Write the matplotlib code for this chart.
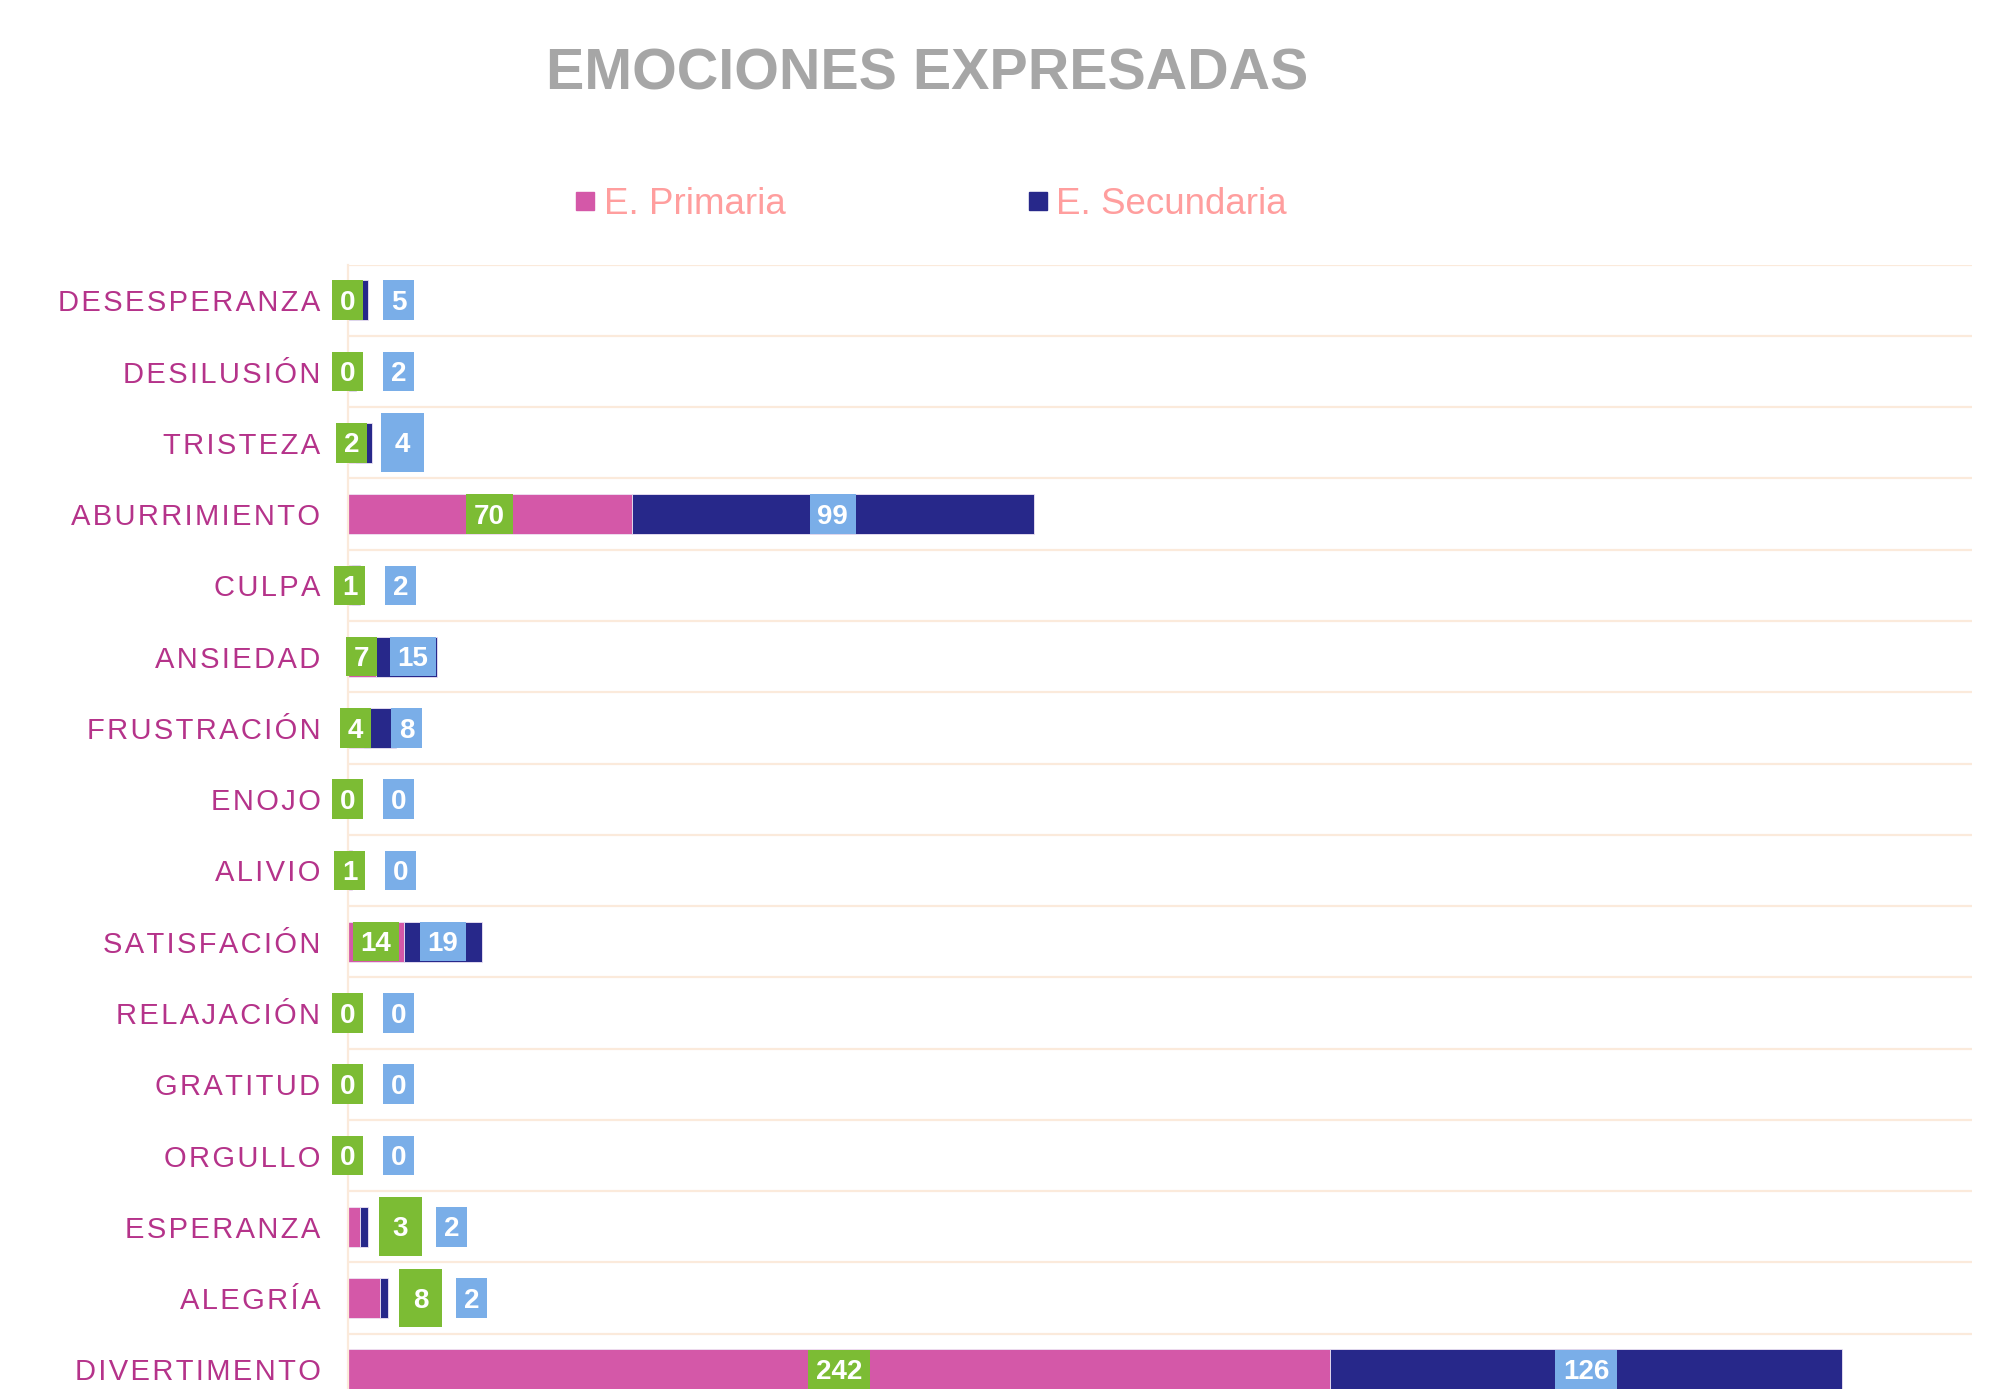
import numpy as np
import matplotlib
matplotlib.use("Agg")
import matplotlib.pyplot as plt
from matplotlib.lines import Line2D
from matplotlib.path import Path

# data
categories = ["DESESPERANZA", "DESILUSIÓN", "TRISTEZA", "ABURRIMIENTO", "CULPA",
              "ANSIEDAD", "FRUSTRACIÓN", "ENOJO", "ALIVIO", "SATISFACIÓN",
              "RELAJACIÓN", "GRATITUD", "ORGULLO", "ESPERANZA", "ALEGRÍA",
              "DIVERTIMENTO"]
primaria = [0, 0, 2, 70, 1, 7, 4, 0, 1, 14, 0, 0, 0, 3, 8, 242]
secundaria = [5, 2, 4, 99, 2, 15, 8, 0, 0, 19, 0, 0, 0, 2, 2, 126]
series_names = ["E. Primaria", "E. Secundaria"]

# labels that were dragged outside the bar / drawn with a larger box
outside_labels = ["ESPERANZA", "ALEGRÍA"]
big_labels = [("TRISTEZA", 1), ("ESPERANZA", 0), ("ALEGRÍA", 0)]

c_prim = "#D458A8"
c_sec = "#27288A"
c_lab_prim = "#7CBC34"
c_lab_sec = "#7AAEE8"
c_grid = "#FBEADB"
c_cat = "#B5338A"

plt.rcParams["font.family"] = ["Liberation Sans", "DejaVu Sans"]


def rect_box(padx, pady, shift=0.098):
    # square label box, own x / y padding, a bit taller on top so the
    # digits (which sit above the descent) end up centred in the box
    def box(x0, y0, width, height, mutation_size):
        px = padx * mutation_size
        top = (pady + shift) * mutation_size
        bot = (pady - shift) * mutation_size
        return Path([(x0 - px, y0 - bot), (x0 + width + px, y0 - bot),
                     (x0 + width + px, y0 + height + top), (x0 - px, y0 + height + top),
                     (x0 - px, y0 - bot)], closed=True)
    return box


fig = plt.figure(figsize=(20.03, 13.89), dpi=100, facecolor="w")
ax = fig.add_axes([0.1735, -0.0115, 0.811, 0.821])

n = len(categories)
y = np.arange(n)
prim = np.array(primaria)
sec = np.array(secundaria)

ax.barh(y, prim, height=0.56, color=c_prim, edgecolor="#EEE4F4", linewidth=0.6, zorder=2)
ax.barh(y, sec, left=prim, height=0.56, color=c_sec, edgecolor="#EEE4F4", linewidth=0.6, zorder=2)

ax.set_xlim(0, 400)
ax.set_ylim(n - 0.5, -0.5)
ax.set_yticks(y)
# letter spaced category names
ax.set_yticklabels(["\u200a".join(c) for c in categories], fontsize=21, color=c_cat)
ax.set_xticks([])
ax.set_yticks(np.arange(n + 1) - 0.5, minor=True)
ax.tick_params(axis="y", which="both", length=0, pad=19.5)
ax.grid(which="minor", axis="y", color=c_grid, linewidth=1.6, zorder=0)
for side in ["top", "right", "bottom"]:
    ax.spines[side].set_visible(False)
ax.spines["left"].set_color(c_grid)
ax.spines["left"].set_linewidth(1.6)

# data labels in coloured boxes
label_gap = 12.6
for i, cat in enumerate(categories):
    if cat in outside_labels:
        xp = prim[i] + sec[i] + 8
    else:
        xp = prim[i] / 2.0
    xs = max(prim[i] + sec[i] / 2.0, xp + label_gap)
    for k, (xx, val, col) in enumerate([(xp, prim[i], c_lab_prim), (xs, sec[i], c_lab_sec)]):
        if (cat, k) in big_labels:
            style = rect_box(0.5, 0.59)
        else:
            style = rect_box(0.28, 0.245)
        ax.annotate(str(val), (xx, i), xytext=(0, -1.95), textcoords="offset points",
                    ha="center", va="center", fontsize=20, fontweight="bold",
                    color="white", zorder=4, annotation_clip=False,
                    bbox=dict(boxstyle=style, facecolor=col, edgecolor="none"))

fig.text(0.463, 1 - 89.4 / 1389, "EMOCIONES EXPRESADAS", ha="center", va="baseline",
         fontsize=41.3, fontweight="bold", color="#A6A6A6")

handles = [Line2D([], [], marker="s", linestyle="none", color=c, markersize=13)
           for c in [c_prim, c_sec]]
fig.legend(handles, series_names, loc="center", bbox_to_anchor=(0.465, 0.8527),
           ncol=2, frameon=False, fontsize=26.5, labelcolor="#FF9E9E",
           handlelength=0.5, handletextpad=0.25, columnspacing=6.6)

fig.savefig("out.png", dpi=100, facecolor="w")
